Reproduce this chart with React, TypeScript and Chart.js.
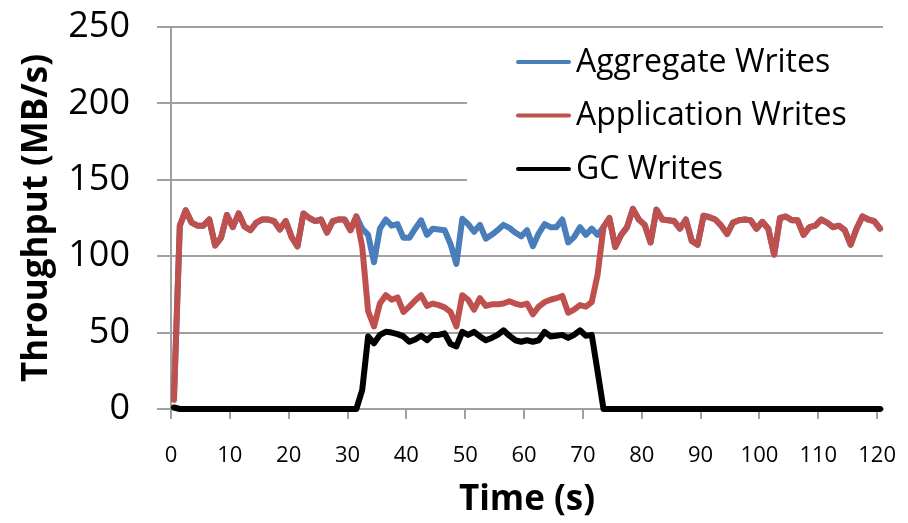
import React, { useEffect, useRef } from "react";
import { Chart, registerables } from "chart.js";

Chart.register(...registerables);

// Sample times (s)
const times = [
  0.5, 1.5, 2.5, 3.5, 4.5, 5.5, 6.5, 7.5, 8.5, 9.5,
  10.5, 11.5, 12.5, 13.5, 14.5, 15.5, 16.5, 17.5, 18.5, 19.5,
  20.5, 21.5, 22.5, 23.5, 24.5, 25.5, 26.5, 27.5, 28.5, 29.5,
  30.5, 31.5, 32.5, 33.5, 34.5, 35.5, 36.5, 37.5, 38.5, 39.5,
  40.5, 41.5, 42.5, 43.5, 44.5, 45.5, 46.5, 47.5, 48.5, 49.5,
  50.5, 51.5, 52.5, 53.5, 54.5, 55.5, 56.5, 57.5, 58.5, 59.5,
  60.5, 61.5, 62.5, 63.5, 64.5, 65.5, 66.5, 67.5, 68.5, 69.5,
  70.5, 71.5, 72.5, 73.5, 74.5, 75.5, 76.5, 77.5, 78.5, 79.5,
  80.5, 81.5, 82.5, 83.5, 84.5, 85.5, 86.5, 87.5, 88.5, 89.5,
  90.5, 91.5, 92.5, 93.5, 94.5, 95.5, 96.5, 97.5, 98.5, 99.5,
  100.5, 101.5, 102.5, 103.5, 104.5, 105.5, 106.5, 107.5, 108.5, 109.5,
  110.5, 111.5, 112.5, 113.5, 114.5, 115.5, 116.5, 117.5, 118.5, 119.5,
  120.5,
];

const aggregateWrites = [
  7, 120, 130, 122, 120, 120, 124, 107, 112, 127,
  119, 128, 119.5, 117, 122, 124, 124, 123, 117.5, 123,
  112.5, 106.5, 128, 125, 123, 124, 115.5, 123, 124, 124,
  117, 126, 118, 114, 96, 118, 124, 120, 121, 112,
  112, 118, 123.5, 114, 118, 117.5, 117, 108, 95, 124.5,
  121, 116, 120.5, 111.5, 114, 117, 120.5, 118.5, 115.5, 113,
  117, 106.5, 115, 121, 119, 119, 124, 109, 112.5, 119,
  114, 118, 114, 119, 125, 106, 114, 119, 131, 124,
  120.5, 109, 130.5, 124, 123.5, 123, 118, 124, 110, 107.5,
  126.5, 125.5, 124, 120, 114.5, 122, 123.5, 124, 123.5, 118,
  122.5, 118, 101, 125, 126, 123.5, 123.5, 114, 119, 120,
  124, 122, 119, 120, 117, 107.5, 118, 126, 124, 123,
  118,
];

const applicationWrites = [
  6, 120, 130, 122, 120, 120, 124, 107, 112, 127,
  119, 128, 119.5, 117, 122, 124, 124, 123, 117.5, 123,
  112.5, 106.5, 128, 125, 123, 124, 115.5, 123, 124, 124,
  117, 126, 106, 64, 54, 69, 74.5, 71.5, 73, 63.5,
  67, 71, 74.5, 67.5, 69, 68, 66.5, 63.5, 54, 74.5,
  71.5, 65, 72.5, 67.5, 68.5, 68.5, 69, 70.5, 69, 68,
  69, 62, 67, 70, 71.5, 72.5, 74, 63, 65, 68,
  67, 70, 88, 119, 125, 106, 114, 119, 131, 124,
  120.5, 109, 130.5, 124, 123.5, 123, 118, 124, 110, 107.5,
  126.5, 125.5, 124, 120, 114.5, 122, 123.5, 124, 123.5, 118,
  122.5, 118, 101, 125, 126, 123.5, 123.5, 114, 119, 120,
  124, 122, 119, 120, 117, 107.5, 118, 126, 124, 123,
  118,
];

const gcWrites = [
  1, 0, 0, 0, 0, 0, 0, 0, 0, 0,
  0, 0, 0, 0, 0, 0, 0, 0, 0, 0,
  0, 0, 0, 0, 0, 0, 0, 0, 0, 0,
  0, 0, 12.5, 47.5, 43, 48.5, 50.5, 50, 49, 47.5,
  44, 45.5, 48, 45, 48.5, 48.5, 49.5, 42.5, 41, 50.5,
  48.5, 50.5, 47.5, 45, 46.5, 48.5, 51.5, 48, 45, 44,
  45, 44, 45, 50.5, 47.5, 48, 48.5, 46.5, 48.5, 51.5,
  48, 48.5, 24.5, 0, 0, 0, 0, 0, 0, 0,
  0, 0, 0, 0, 0, 0, 0, 0, 0, 0,
  0, 0, 0, 0, 0, 0, 0, 0, 0, 0,
  0, 0, 0, 0, 0, 0, 0, 0, 0, 0,
  0, 0, 0, 0, 0, 0, 0, 0, 0, 0,
  0,
];

const xTickValues = [0, 10, 20, 30, 40, 50, 60, 70, 80, 90, 100, 110, 120];
const seriesNames = ["Aggregate Writes", "Application Writes", "GC Writes"];
const seriesColors = ["#4a7ebb", "#c0504d", "#000000"];

const FONT = "'Open Sans', 'DejaVu Sans', sans-serif";
const GRID = "#a0a0a0";

const legendPlugin = {
  id: "boxLegend",
  afterDraw(chart: any) {
    const ctx = chart.ctx;
    ctx.save();
    ctx.fillStyle = "#ffffff";
    ctx.fillRect(467, 30, 416, 160);
    const rows = [62, 115.5, 169];
    seriesNames.forEach((name, i) => {
      const y = rows[i];
      ctx.strokeStyle = seriesColors[i];
      ctx.lineWidth = 4;
      ctx.lineCap = "round";
      ctx.beginPath();
      ctx.moveTo(518, y);
      ctx.lineTo(569, y);
      ctx.stroke();
      ctx.fillStyle = "#000000";
      ctx.font = `32px ${FONT}`;
      ctx.textBaseline = "middle";
      ctx.textAlign = "left";
      ctx.fillText(name, 576, y + 0.8);
    });
    ctx.restore();
  },
};

export default function App() {
  const ref = useRef<HTMLCanvasElement | null>(null);

  useEffect(() => {
    document.body.style.margin = "0";
    const canvas = ref.current;
    if (!canvas) return;
    const mk = (vals: number[]) => times.map((t, i) => ({ x: t, y: vals[i] }));
    const chart = new Chart(canvas, {
      type: "line",
      data: {
        datasets: [
          {
            label: seriesNames[2],
            data: mk(gcWrites),
            borderColor: seriesColors[2],
            order: 0,
          },
          {
            label: seriesNames[1],
            data: mk(applicationWrites),
            borderColor: seriesColors[1],
            order: 1,
          },
          {
            label: seriesNames[0],
            data: mk(aggregateWrites),
            borderColor: seriesColors[0],
            order: 2,
          },
        ] as any,
      },
      options: {
        animation: false,
        responsive: false,
        maintainAspectRatio: false,
        layout: { padding: { top: 27, right: 25, bottom: 0, left: 0 } },
        elements: {
          point: { radius: 0 },
          line: {
            borderWidth: 6,
            tension: 0,
            borderJoinStyle: "round",
            borderCapStyle: "round",
            fill: false,
          },
        },
        datasets: { line: { clip: false } } as any,
        plugins: {
          legend: { display: false },
          tooltip: { enabled: false },
        },
        scales: {
          x: {
            type: "linear",
            min: 0,
            max: 121,
            afterBuildTicks: (s: any) => {
              s.ticks = xTickValues.map((v) => ({ value: v }));
            },
            afterFit: (s: any) => {
              s.height = 114;
              s.paddingLeft = 0;
              s.paddingRight = 0;
            },
            grid: {
              display: true,
              drawOnChartArea: false,
              drawTicks: true,
              tickLength: 10,
              color: GRID,
              lineWidth: 2,
            },
            border: { color: GRID, width: 2 },
            ticks: {
              autoSkip: false,
              maxRotation: 0,
              padding: 24,
              color: "#000",
              font: { family: FONT, size: 22 },
            },
            title: {
              display: true,
              text: "Time (s)",
              color: "#000",
              padding: { top: 0, bottom: 2 },
              font: { family: FONT, size: 35, weight: "bold" },
            },
          },
          y: {
            min: 0,
            max: 250,
            afterFit: (s: any) => {
              s.width = 171;
              s.paddingTop = 0;
              s.paddingBottom = 0;
            },
            grid: {
              color: GRID,
              lineWidth: 2,
              drawTicks: true,
              tickLength: 14,
            },
            border: { color: GRID, width: 2 },
            ticks: {
              stepSize: 50,
              padding: 27,
              color: "#000",
              font: { family: FONT, size: 36 },
            },
            title: {
              display: true,
              text: "Throughput (MB/s)",
              color: "#000",
              padding: { top: 16, bottom: 0 },
              font: { family: FONT, size: 35, weight: "bold" },
            },
          },
        },
      } as any,
      plugins: [legendPlugin],
    });
    return () => chart.destroy();
  }, []);

  return (
    <div style={{ width: 908, height: 523 }}>
      <canvas ref={ref} width={908} height={523} style={{ display: "block" }} />
    </div>
  );
}
